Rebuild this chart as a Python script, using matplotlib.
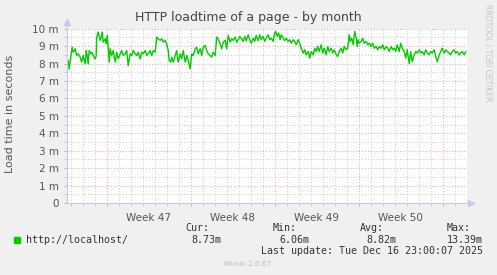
import numpy as np
import matplotlib
matplotlib.use("Agg")
import matplotlib.pyplot as plt
from matplotlib.patches import Rectangle

# hours since start of week 47 (Mon Nov 17 00:00)
hours = [-80, -77, -75, -72, -69, -67, -63, -60, -57, -53, -50, -47, -43, -41, -39, -37,
         -35, -32, -30, -27, -23, -21, -20, -17, -13, -11, -9, -7, -3, -1, 1, 3, 5, 7,
         10, 13, 17, 20, 23, 27, 30, 33, 37, 40, 43, 47, 50, 53, 57, 60, 63, 67, 70, 73,
         77, 80, 83, 87, 90, 93, 97, 100, 103, 107, 110, 113, 117, 120, 123, 125, 128,
         130, 133, 137, 140, 143, 147, 150, 153, 157, 160, 163, 167, 170, 173, 177, 180,
         183, 187, 190, 193, 197, 200, 203, 207, 210, 213, 217, 220, 223, 227, 230, 233,
         237, 240, 243, 247, 250, 253, 257, 260,
         263, 266, 269, 273, 276, 279, 283, 286, 289, 293, 296, 299, 303, 306, 309, 313,
         316, 319, 323, 326, 329, 333, 336, 338, 341, 344, 347, 349, 353, 356, 359, 363,
         366, 369, 373, 376, 379, 383, 386, 389, 393, 396, 399, 403, 406, 409, 413, 416,
         419, 422, 425, 429, 432, 435, 439, 442, 445, 449, 452, 455, 459, 462, 465, 469,
         472, 475, 479, 482, 485, 487, 490, 493, 496, 499, 501, 503, 505, 509, 512, 515,
         519, 522, 525, 529, 532, 535, 539, 542, 545, 549, 552, 555, 559, 562, 565, 569,
         572, 575, 578, 581, 585, 588, 591, 595, 598, 601, 605, 608, 611, 615, 618, 621,
         625, 628, 631, 635, 638, 641, 645, 648, 651, 655, 658, 661, 665, 668, 671, 675,
         678, 681, 685, 688, 691, 695, 698, 701, 705, 708, 711, 715, 718]

# load time in milliseconds
load_ms = [8.27, 8.17, 7.69, 8.37, 8.94, 8.65, 8.85, 8.46, 8.56, 8.37, 8.08, 8.46, 7.98,
           8.75, 8.46, 7.98, 8.75, 8.56, 8.65, 8.46, 8.27, 8.46, 9.52, 9.81, 9.33, 9.52,
           9.81, 9.23, 9.42, 9.13, 9.62, 8.94, 8.08, 8.85, 8.46, 8.75, 8.08, 8.65, 8.27,
           8.56, 8.75, 8.46, 8.56, 8.75, 7.88, 8.56, 8.46, 8.75, 8.56, 8.46, 8.65, 8.27,
           8.65, 8.56, 8.75, 8.46, 8.56, 8.75, 8.46, 8.75, 8.65, 9.52, 9.42, 9.33, 9.42,
           9.23, 9.33, 9.13, 8.75, 8.17, 8.08, 8.37, 8.08, 8.46, 8.75, 8.08, 8.56, 8.27,
           8.75, 8.08, 8.46, 8.17, 7.69, 8.56, 8.46, 8.85, 8.94, 8.56, 8.85, 8.46, 8.94,
           9.04, 8.75, 8.56, 8.46, 8.37, 8.65, 8.46, 9.52, 9.42, 9.13, 8.85, 9.23, 9.33,
           8.85, 9.62, 9.23, 9.42, 9.33, 9.52, 9.23,
           9.37, 9.56, 9.46, 9.27, 9.56, 9.31, 9.65, 9.37, 9.17, 9.46,
           9.27, 9.62, 9.31, 9.65, 9.37, 9.56, 9.27, 9.46, 9.65, 9.37,
           9.46, 9.27, 9.75, 9.85, 9.56, 9.75, 9.37, 9.65, 9.46, 9.31,
           9.46, 9.27, 9.37, 9.17, 9.37, 9.27, 9.08, 9.37, 9.17, 8.88,
           8.60, 8.79, 8.50, 8.69, 8.31, 8.69, 8.50, 8.88, 8.69,
           8.98, 8.69, 9.08, 8.60, 8.88, 8.50, 8.98, 8.69, 8.88, 8.60,
           8.79, 8.50, 8.40, 8.69, 8.88, 8.60, 8.98, 8.79, 8.88, 9.65,
           9.27, 9.46, 9.08, 9.85, 9.46, 8.98, 9.37, 9.17, 9.27, 9.46,
           9.17, 9.27, 9.08, 9.17, 8.98, 9.17, 8.88, 8.98, 8.79, 8.98,
           8.88, 9.08, 8.79, 8.98, 8.88, 8.69, 8.98, 8.79, 8.88,
           8.69, 9.08, 8.69, 9.17, 8.88, 8.69, 8.31, 8.79, 8.00, 8.69,
           8.10, 8.50, 8.69, 8.60, 8.79, 8.60, 8.69, 8.50, 8.79, 8.60,
           8.50, 8.69, 8.60, 8.79, 8.40, 8.10, 8.50, 8.69, 8.88, 8.60,
           8.79, 8.69, 8.60, 8.50, 8.69, 8.79, 8.60, 8.69, 8.50, 8.60,
           8.69, 8.50, 8.69]

week_labels = ["Week 47", "Week 48", "Week 49", "Week 50"]
ytick_labels = ["0", "1 m", "2 m", "3 m", "4 m", "5 m", "6 m", "7 m", "8 m", "9 m", "10 m"]
stats = {"Cur:": "8.73m", "Min:": "6.06m", "Avg:": "8.82m", "Max:": "13.39m"}

bg = "#F0F0F0"
txt = "#555555"
green = "#00CC00"

fig = plt.figure(figsize=(4.97, 2.75), dpi=100, facecolor=bg)
ax = fig.add_axes([67 / 497, 72 / 275, 399.5 / 497, 174.3 / 275])
ax.set_facecolor("white")

ax.plot(hours, load_ms, color=green, lw=1.0)

ax.set_xlim(-79.4, 719.6)
ax.set_ylim(0, 10)

# grid
ax.set_yticks(np.arange(0, 11, 1))
ax.set_yticks(np.arange(0, 10.01, 0.5), minor=True)
ax.set_yticklabels(ytick_labels)
ax.set_xticks(np.arange(0, 700, 168))
ax.set_xticks(np.arange(-72, 720, 24), minor=True)
ax.set_xticklabels([])
ax.grid(which="minor", color="#C8C8C8", ls=(0, (1, 2)), lw=0.7)
ax.grid(which="major", color="#E8A0A0", ls=(0, (1, 2)), lw=0.7)
ax.set_axisbelow(True)
ax.tick_params(which="major", axis="y", length=2, width=0.7, color="#E8A0A0",
               labelsize=7.5, labelcolor=txt, pad=4)
ax.tick_params(which="minor", axis="y", length=2, width=0.7, color="#C8C8C8")
ax.tick_params(which="major", axis="x", length=2, width=0.7, color="#E8A0A0")
ax.tick_params(which="minor", axis="x", length=2, width=0.7, color="#C8C8C8")

for i, lab in enumerate(week_labels):
    ax.text(84 + 168 * i, -0.055, lab, transform=ax.get_xaxis_transform(),
            ha="center", va="top", fontsize=7.5, color=txt)

for s in ["top", "right", "left", "bottom"]:
    ax.spines[s].set_visible(False)
axis_col = "#C8C8F0"
ax.plot([0, 0], [0, 1.035], transform=ax.transAxes, color=axis_col, lw=0.8, clip_on=False)
ax.plot([0, 1.01], [0, 0], transform=ax.transAxes, color=axis_col, lw=0.8, clip_on=False)
ax.plot([0], [1.04], marker="^", ms=4, color=axis_col, transform=ax.transAxes, clip_on=False)
ax.plot([1.012], [0], marker=">", ms=4, color=axis_col, transform=ax.transAxes, clip_on=False)

fig.text(248 / 497, 1 - 18 / 275, "HTTP loadtime of a page - by month",
         ha="center", va="center", fontsize=9, color="#444444")
fig.text(10 / 497, 1 - 114 / 275, "Load time in seconds", rotation=90,
         ha="center", va="center", fontsize=8, color=txt)
fig.text(488 / 497, 1 - 53 / 275, "RRDTOOL / TOBI OETIKER", rotation=270,
         ha="center", va="center", fontsize=5.5, color="#C4C4C4")

# legend block
fig.patches.append(Rectangle((14 / 497, 1 - 243 / 275), 6 / 497, 6 / 275,
                             transform=fig.transFigure, color=green))
mono = dict(family="DejaVu Sans Mono", fontsize=7.2, color="#333333", va="center")
fig.text(26 / 497, 1 - 240 / 275, "http://localhost/", **mono)
head_x = [185, 273, 360, 447]
val_x = [221, 309, 396, 483]
for (k, v), hx, vx in zip(stats.items(), head_x, val_x):
    fig.text(hx / 497, 1 - 228 / 275, k, **mono)
    fig.text(vx / 497, 1 - 240 / 275, v, ha="right", **mono)
fig.text(483 / 497, 1 - 251 / 275, "Last update: Tue Dec 16 23:00:07 2025",
         ha="right", **mono)
fig.text(248 / 497, 1 - 264 / 275, "Munin 2.0.67", ha="center", va="center",
         fontsize=5.2, color="#BBBBBB")

fig.savefig("out.png", dpi=100, facecolor=bg)
